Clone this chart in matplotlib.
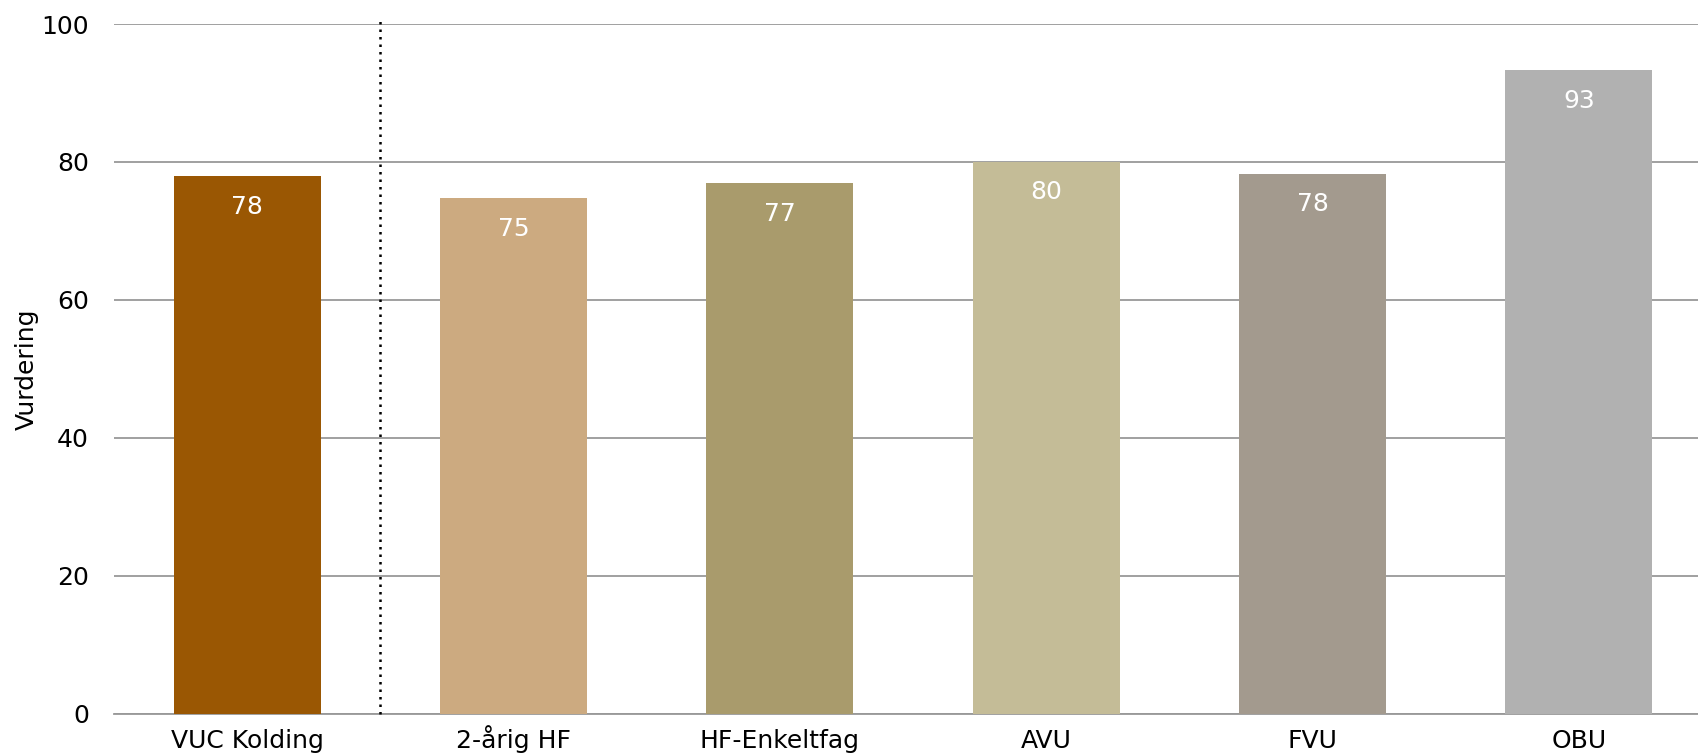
import matplotlib
matplotlib.use("Agg")
import matplotlib.pyplot as plt

categories = ["VUC Kolding", "2-årig HF", "HF-Enkeltfag", "AVU", "FVU", "OBU"]
values = [77.9, 74.7, 76.9, 80.0, 78.3, 93.3]
colors = ["#9A5703", "#CCAA80", "#A99B6C", "#C4BC97", "#A39A8E", "#B1B1B1"]
yticks = [0, 20, 40, 60, 80, 100]

plt.rcParams["font.family"] = ["DejaVu Sans"]

W, H = 1698, 756
left_px, right_px, top_px, bottom_px = 114, 1712, 24, 713.5

fig = plt.figure(figsize=(W / 100, H / 100), dpi=100)
ax = fig.add_axes([left_px / W, 1 - bottom_px / H,
                   (right_px - left_px) / W, (bottom_px - top_px) / H])

x = list(range(len(categories)))
ax.bar(x, values, width=0.553, color=colors, zorder=3)

for xi, v in zip(x, values):
    ax.annotate(f"{v:.0f}", (xi, v), xytext=(0, -22), textcoords="offset points",
                ha="center", va="center", color="white", fontsize=18, zorder=4)

ax.set_xlim(-0.5, len(categories) - 0.5)
ax.set_ylim(0, 100)
ax.set_yticks(yticks)
ax.set_xticks(x)
ax.set_xticklabels(categories)
ax.tick_params(axis="both", length=0, labelsize=18)
ax.tick_params(axis="y", pad=18)
ax.tick_params(axis="x", pad=25)
for lbl in ax.get_xticklabels():
    lbl.set_va("baseline")

ax.grid(axis="y", color="#999999", linewidth=1.3, zorder=0)
ax.set_axisbelow(True)
for side in ["top", "right", "left"]:
    ax.spines[side].set_visible(False)
ax.spines["bottom"].set_color("#999999")
ax.spines["bottom"].set_linewidth(1.3)

# separator between the school and the national programmes
ax.axvline(0.5, ymin=0, ymax=1.005, color="black", linestyle=(0, (1, 2)),
           linewidth=1.8, zorder=5, clip_on=False)

ax.set_ylabel("Vurdering", fontsize=18)
ax.yaxis.set_label_coords((39 - left_px) / (right_px - left_px), 0.5)

fig.savefig("out.png", dpi=100)
